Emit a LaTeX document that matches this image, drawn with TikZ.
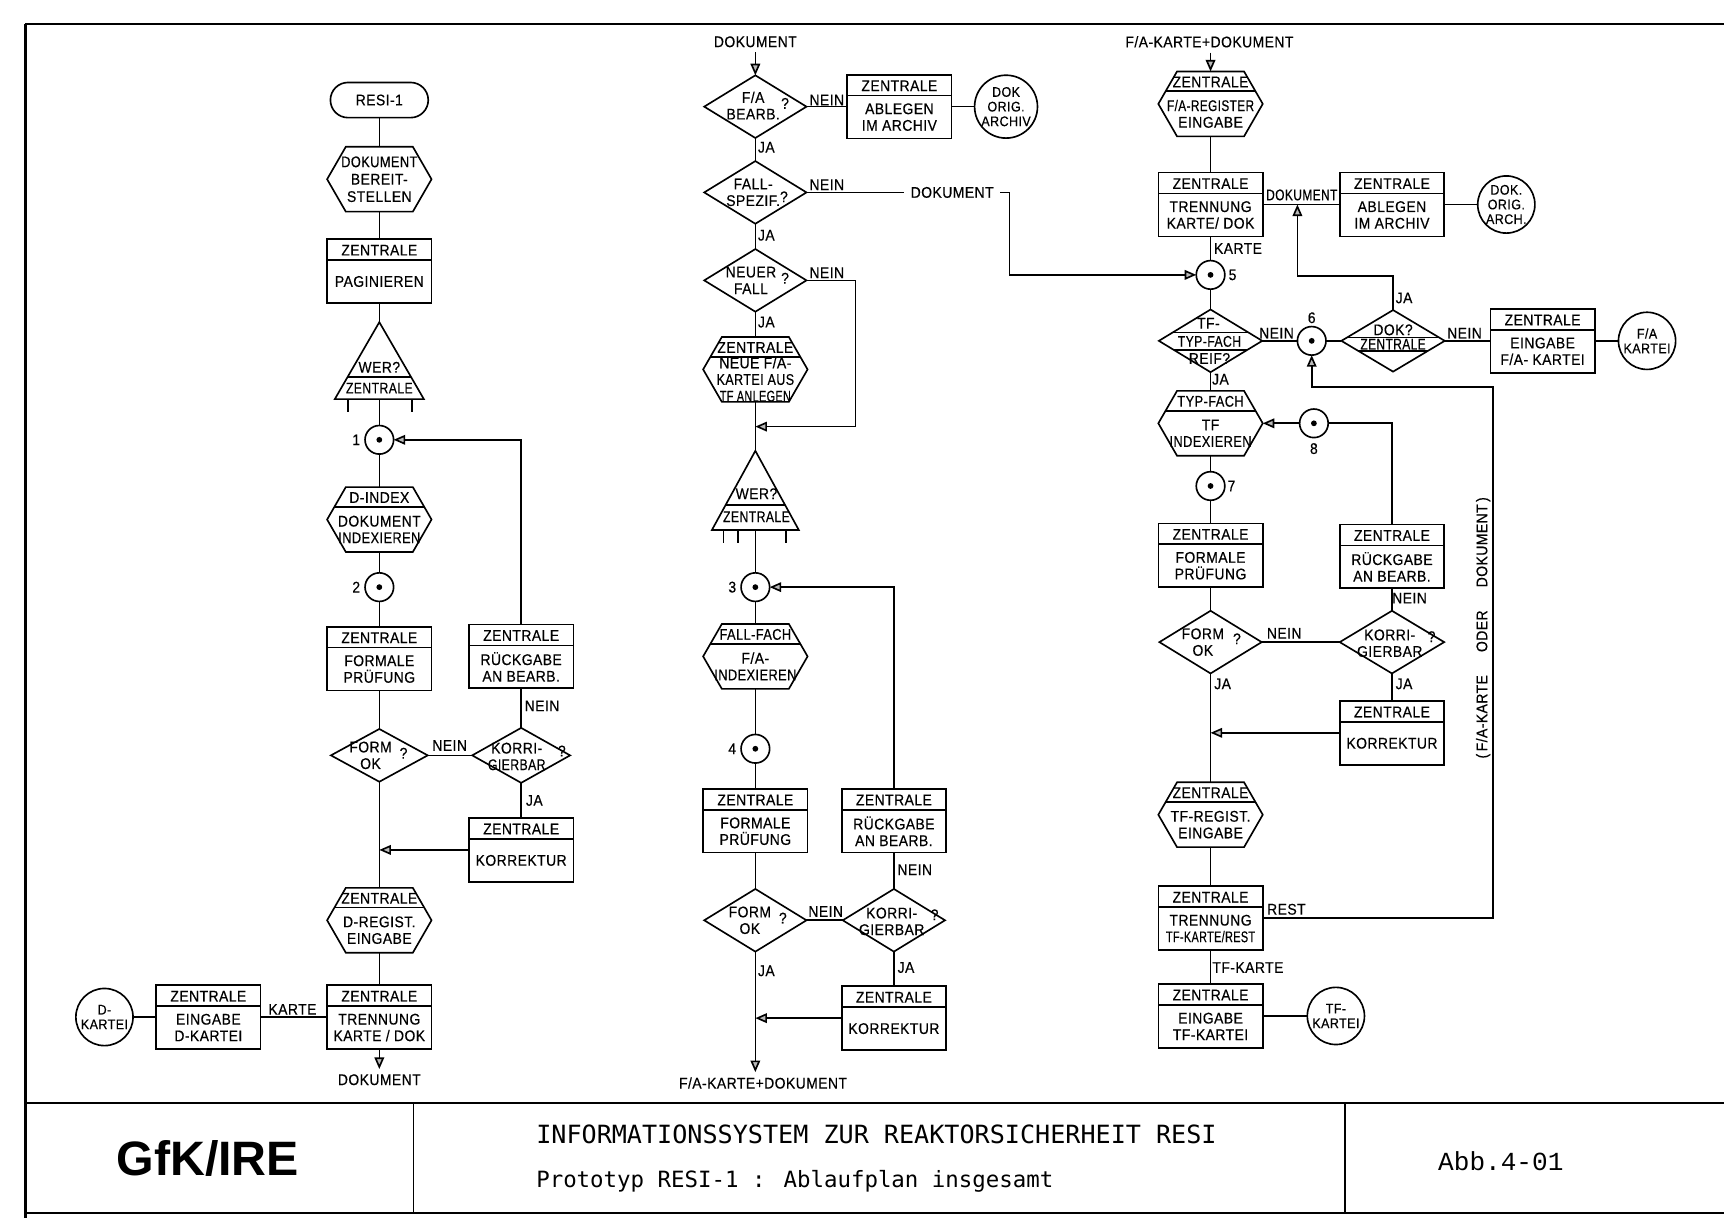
\documentclass[tikz,border=0pt]{standalone}
\usepackage{fontspec}
\usetikzlibrary{arrows.meta,calc}
\newfontfamily\diafont{Liberation Sans}[LetterSpace=3, FakeStretch=0.9, FakeBold=0.4]
\newfontfamily\headfont{Liberation Sans}
\newfontfamily\titlefont{DejaVu Sans Mono}
\newfontfamily\abbfont{Liberation Mono}

% horizontally squeezed text
\newcommand\nar[2][0.85]{\scalebox{#1}[1]{#2}}

\tikzset{
  pbox/.style={draw, minimum width=1.9cm, minimum height=1.16cm, inner sep=0pt, outer sep=0pt},
  hbox/.style={minimum width=1.9cm, minimum height=1.18cm, inner sep=0pt, outer sep=0pt},
  lbl/.style={font=\diafont\fontsize{8}{8.6}\selectfont, inner sep=0pt, align=center},
  jc/.style={circle, draw, minimum size=0.52cm, inner sep=0pt, outer sep=0pt},
  bigc/.style={circle, draw, minimum size=1.04cm, inner sep=0pt, outer sep=0pt,
    font=\diafont\fontsize{7.2}{7.6}\selectfont, align=center},
  arr/.style={-{Triangle[length=6pt,width=5pt,fill=gray!55]}},
}

% process box: name, centre, header, body
\newcommand\pbx[4]{%
  \node[pbox] (#1) at (#2) {};
  \draw ($(#1.north west)+(0,19)$) -- ($(#1.north east)+(0,19)$);
  \node[lbl] (#1-h) at ($(#1.north)+(0,10)$) {#3};
  \node[lbl] (#1-b) at ($(#1.north)+(0,38.5)$) {#4};
}
% hexagon outline around a named node
\newcommand\hexshape[1]{%
  \draw ($(#1.north west)+(17,0)$) -- ($(#1.north east)+(-17,0)$) -- (#1.east)
     -- ($(#1.south east)+(-17,0)$) -- ($(#1.south west)+(17,0)$) -- (#1.west) -- cycle;
}
% hexagon with header: name, centre, header, body
\newcommand\hexa[4]{%
  \node[hbox] (#1) at (#2) {};
  \hexshape{#1}
  \draw ($(#1.north west)+(6.6,18)$) -- ($(#1.north east)+(-6.6,18)$);
  \node[lbl] (#1-h) at ($(#1.north)+(0,9.5)$) {#3};
  \node[lbl] (#1-b) at ($(#1.north)+(0,38.5)$) {#4};
}
% hexagon without header: name, centre, text
\newcommand\hexb[3]{%
  \node[hbox] (#1) at (#2) {};
  \hexshape{#1}
  \node[lbl,font=\diafont\fontsize{8}{9}\selectfont] (#1-b) at (#1.center) {#3};
}
% decision diamond: name, centre, width, height
\newcommand\dia[4]{%
  \node[inner sep=0pt, outer sep=0pt, minimum width=#3*0.02cm, minimum height=#4*0.02cm] (#1) at (#2) {};
  \draw (#1.north) -- (#1.east) -- (#1.south) -- (#1.west) -- cycle;
}
% triangle: name, centre, width, height
\newcommand\trig[4]{%
  \node[inner sep=0pt, outer sep=0pt, minimum width=#3*0.02cm, minimum height=#4*0.02cm] (#1) at (#2) {};
  \draw (#1.north) -- (#1.south east) -- (#1.south west) -- cycle;
}
% connector circle with centre dot
\newcommand\junc[2]{%
  \node[jc] (#1) at (#2) {};
  \fill (#1.center) circle (1.5pt);
}

\begin{document}
\begin{tikzpicture}[x=0.02cm, y=-0.02cm, line width=0.85pt]
\fill[white] (0,0) rectangle (1568,1117);
\useasboundingbox (0,0) rectangle (1568,1117);

% ---------------- frame and title block
\draw[line width=1.3pt] (23,22) -- (1568,22);
\draw[line width=1.3pt] (23,22) -- (23,1108);
\draw[line width=1.3pt] (23,1003) -- (1568,1003);
\draw[line width=1.3pt] (23,1103) -- (1568,1103);
\draw (376,1003) -- (376,1103);
\draw (1223,1003) -- (1223,1103);
\node[font=\headfont\bfseries\fontsize{25}{25}\selectfont, inner sep=0pt] (gfk) at (189,1054) {GfK/IRE};
\node[font=\titlefont\fontsize{13}{13}\selectfont, anchor=west, inner sep=0pt] (ti1) at (487,1032) {INFORMATIONSSYSTEM ZUR REAKTORSICHERHEIT RESI};
\node[font=\titlefont\fontsize{11.6}{11.6}\selectfont, anchor=west, inner sep=0pt] (ti2) at (487,1074) {Prototyp RESI-1 : Ablaufplan insgesamt};
\node[font=\abbfont\fontsize{13.5}{13.5}\selectfont, inner sep=0pt] (abb) at (1365,1056) {Abb.4-01};

% ---------------- left column: document intake
\node[draw, rounded corners=0.32cm, minimum width=1.78cm, minimum height=0.64cm, lbl] (t0) at (345,91) {RESI-1};
\hexb{h1}{345,163}{\nar[0.92]{DOKUMENT}\\BEREIT-\\STELLEN}
\pbx{b1}{345,246.5}{ZENTRALE}{PAGINIEREN}
\trig{tr1}{345,328}{81}{70}
\draw ($(tr1.north)+(-28.8,50)$) -- ($(tr1.north)+(28.8,50)$);
\node[lbl] (tr1-a) at ($(tr1.north)+(0,41)$) {WER?};
\node[lbl] (tr1-b) at ($(tr1.north)+(0,60)$) {\nar[0.88]{ZENTRALE}};
\draw ($(tr1.south west)+(12,0)$) -- ++(0,12);
\draw ($(tr1.south west)+(70,0)$) -- ++(0,12);
\junc{c1}{345,400}
\node[lbl] (n1) at (324,400) {1};
\hexa{h2}{345,472.5}{D-INDEX}{DOKUMENT\\\nar[0.92]{INDEXIEREN}}
\junc{c2}{345,534}
\node[lbl] (n2) at (324,534) {2};
\pbx{b2}{345,599}{ZENTRALE}{FORMALE\\PRÜFUNG}
\pbx{b3}{474,597}{ZENTRALE}{RÜCKGABE\\AN BEARB.}
\dia{d1}{345,687}{88}{48}
\node[lbl] (d1-t) at (337,687) {FORM\\OK};
\node[lbl] (d1-q) at (367,685) {?};
\dia{d2}{474,687}{89}{50}
\node[lbl] (d2-t) at (470,688) {KORRI-\\\nar[0.88]{GIERBAR}};
\node[lbl] (d2-q) at (511,683) {?};
\pbx{b4}{474,773}{ZENTRALE}{KORREKTUR}
\hexa{h3}{345,837}{ZENTRALE}{D-REGIST.\\EINGABE}
\pbx{b5}{345,925}{ZENTRALE}{TRENNUNG\\KARTE / DOK}
\pbx{b6}{189.5,925}{ZENTRALE}{EINGABE\\D-KARTEI}
\node[bigc] (k1) at (95,925) {D-\\KARTEI};
\node[lbl] (doc1) at (345,982) {DOKUMENT};
\node[lbl] (l1) at (493,642) {NEIN};
\node[lbl] (l2) at (409,678) {NEIN};
\node[lbl] (l3) at (486,728) {JA};
\node[lbl] (l4) at (266,918) {KARTE};

\draw (t0.south) -- (h1.north);
\draw (h1.south) -- (b1.north);
\draw (b1.south) -- (tr1.north);
\draw (tr1.south) -- (c1.north);
\draw (c1.south) -- (h2.north);
\draw (h2.south) -- (c2.north);
\draw (c2.south) -- (b2.north);
\draw (b2.south) -- (d1.north);
\draw (d1.south) -- (h3.north);
\draw (h3.south) -- (b5.north);
\draw[arr] (b5.south) -- ($(doc1.north)+(0,-4)$);
\draw (d1.east) -- (d2.west);
\draw (d2.north) -- (b3.south);
\draw (d2.south) -- (b4.north);
\draw[arr] (b4.west) -- (b4.west -| d1.south);
\draw[arr] (b3.north) |- (c1.east);
\draw (b5.west) -- (b6.east);
\draw (b6.west) -- (k1.east);

% ---------------- middle column: case processing
\node[lbl] (doc2) at (687,38) {DOKUMENT};
\dia{d3}{687,97}{93}{57}
\node[lbl] (d3-t) at (685,96) {F/A\\BEARB.};
\node[lbl] (d3-q) at (714,94) {?};
\pbx{b7}{818,97}{ZENTRALE}{ABLEGEN\\IM ARCHIV}
\node[bigc] (k2) at (915,97) {DOK\\ORIG.\\ARCHIV};
\dia{d4}{687,175}{93}{57}
\node[lbl] (d4-t) at (685,175) {FALL-\\SPEZIF.};
\node[lbl] (d4-q) at (713,179) {?};
\node[lbl, inner xsep=3pt] (doc3) at (866,175) {DOKUMENT};
\coordinate (cD) at (918,175);
\dia{d5}{687,255}{93}{57}
\node[lbl] (d5-t) at (683,255) {NEUER\\FALL};
\node[lbl] (d5-q) at (714,253) {?};
\coordinate (cN) at (778,388);
\hexa{h4}{687,336}{ZENTRALE}{NEUE F/A-\\\nar[0.9]{KARTEI AUS}\\\nar[0.78]{TF ANLEGEN}}
\trig{tr2}{687,446}{79}{72}
\draw ($(tr2.north)+(-26.9,49)$) -- ($(tr2.north)+(26.9,49)$);
\node[lbl] (tr2-a) at ($(tr2.north)+(1,39)$) {WER?};
\node[lbl] (tr2-b) at ($(tr2.north)+(1,60)$) {\nar[0.88]{ZENTRALE}};
\draw ($(tr2.south west)+(10.5,0)$) -- ++(0,12);
\draw ($(tr2.south west)+(23.5,0)$) -- ++(0,12);
\draw ($(tr2.south west)+(67.5,0)$) -- ++(0,12);
\junc{c3}{687,534}
\node[lbl] (n3) at (666,534) {3};
\hexa{h5}{687,597}{\nar[0.92]{FALL-FACH}}{F/A-\\\nar[0.92]{INDEXIEREN}}
\junc{c4}{687,681}
\node[lbl] (n4) at (666,681) {4};
\pbx{b8}{687,746.5}{ZENTRALE}{FORMALE\\PRÜFUNG}
\pbx{b9}{813,746.5}{ZENTRALE}{RÜCKGABE\\AN BEARB.}
\dia{d6}{687,837}{93}{57}
\node[lbl] (d6-t) at (682,837) {FORM\\OK};
\node[lbl] (d6-q) at (712,835) {?};
\dia{d7}{813,837}{93}{57}
\node[lbl] (d7-t) at (811,838) {KORRI-\\GIERBAR};
\node[lbl] (d7-q) at (850,832) {?};
\pbx{b10}{813,926}{ZENTRALE}{KORREKTUR}
\node[lbl] (fa1) at (694,985) {F/A-KARTE+DOKUMENT};
\node[lbl] (m1) at (752,91) {NEIN};
\node[lbl] (m2) at (697,134) {JA};
\node[lbl] (m3) at (752,168) {NEIN};
\node[lbl] (m4) at (697,214) {JA};
\node[lbl] (m5) at (752,248) {NEIN};
\node[lbl] (m6) at (697,293) {JA};
\node[lbl] (m7) at (832,791) {NEIN};
\node[lbl] (m8) at (751,829) {NEIN};
\node[lbl] (m9) at (697,883) {JA};
\node[lbl] (m10) at (824,880) {JA};

\draw[arr] ($(doc2.south)+(0,4)$) -- (d3.north);
\draw (d3.east) -- (b7.west);
\draw (b7.east) -- (k2.west);
\draw (d3.south) -- (d4.north);
\draw (d4.east) -- (doc3.west);
\draw (d4.south) -- (d5.north);
\draw (d5.south) -- (h4.north);
\draw[arr] (d5.east) -| (cN) -- (cN -| tr2.north);
\draw (h4.south) -- (tr2.north);
\draw (tr2.south) -- (c3.north);
\draw (c3.south) -- (h5.north);
\draw (h5.south) -- (c4.north);
\draw (c4.south) -- (b8.north);
\draw (b8.south) -- (d6.north);
\draw (d6.east) -- (d7.west);
\draw (d7.north) -- (b9.south);
\draw (d7.south) -- (b10.north);
\draw[arr] (b9.north) |- (c3.east);
\draw[arr] (b10.west) -- (b10.west -| d6.south);
\draw[arr] (d6.south) -- ($(d6.south |- fa1.north)+(0,-4)$);

% ---------------- right column: register and type files
\node[lbl] (fa2) at (1100,38) {F/A-KARTE+DOKUMENT};
\hexa{h6}{1101,94.5}{ZENTRALE}{\nar[0.85]{F/A-REGISTER}\\EINGABE}
\pbx{b11}{1101,186}{ZENTRALE}{TRENNUNG\\KARTE/ DOK}
\pbx{b12}{1266,186}{ZENTRALE}{ABLEGEN\\IM ARCHIV}
\node[bigc] (k3) at (1370,186) {DOK.\\ORIG.\\ARCH.};
\node[lbl, anchor=south] (doc4) at (1184,183) {\nar[0.86]{DOKUMENT}};
\junc{c5}{1101,250}
\node[lbl] (n5) at (1121,250) {5};
\dia{d8}{1101,310}{94}{57}
\draw ($(d8.north)+(-34.6,21)$) -- ($(d8.north)+(34.6,21)$);
\draw ($(d8.north)+(-33,37)$) -- ($(d8.north)+(33,37)$);
\node[lbl] (d8-a) at (1099,294) {TF-};
\node[lbl] (d8-b) at (1100,310.5) {\nar[0.88]{TYP-FACH}};
\node[lbl] (d8-c) at (1100,326) {REIF?};
\junc{c6}{1193,310}
\node[lbl] (n6) at (1193,289) {6};
\dia{d9}{1267,310}{94}{56}
\draw ($(d9.north)+(-42,25)$) -- ($(d9.north)+(42,25)$);
\draw ($(d9.north)+(-31.9,37)$) -- ($(d9.north)+(31.9,37)$);
\node[lbl] (d9-a) at (1267,300) {DOK?};
\node[lbl] (d9-b) at (1267,313) {\nar[0.86]{ZENTRALE}};
\pbx{b13}{1403,310}{ZENTRALE}{EINGABE\\F/A- KARTEI}
\node[bigc] (k4) at (1498,310) {F/A\\KARTEI};
\hexa{h7}{1101,385}{\nar[0.92]{TYP-FACH}}{TF\\\nar[0.92]{INDEXIEREN}}
\junc{c8}{1195,385}
\node[lbl] (n8) at (1195,408) {8};
\junc{c7}{1101,442}
\node[lbl] (n7) at (1120,442) {7};
\pbx{b14}{1101,505}{ZENTRALE}{FORMALE\\PRÜFUNG}
\pbx{b15}{1266,506}{ZENTRALE}{RÜCKGABE\\AN BEARB.}
\dia{d10}{1101,584}{93}{57}
\node[lbl] (d10-t) at (1094,584) {FORM\\OK};
\node[lbl] (d10-q) at (1125,581) {?};
\dia{d11}{1266,584}{95}{57}
\node[lbl] (d11-t) at (1264,585) {KORRI-\\GIERBAR};
\node[lbl] (d11-q) at (1302,579) {?};
\pbx{b16}{1266,666.5}{ZENTRALE}{KORREKTUR}
\hexa{h8}{1101,741}{ZENTRALE}{TF-REGIST.\\EINGABE}
\pbx{b17}{1101,835}{ZENTRALE}{TRENNUNG\\\nar[0.78]{TF-KARTE/REST}}
\pbx{b18}{1101,924}{ZENTRALE}{EINGABE\\TF-KARTEI}
\node[bigc] (k5) at (1215,924) {TF-\\KARTEI};
\coordinate (cR) at (1358,352);
\coordinate (cJ) at (1180,251);
\node[lbl, rotate=90] (vl) at (1349,571) {(\,F/A-KARTE\quad\enspace ODER\quad\enspace DOKUMENT\,)};
\node[lbl] (r1) at (1126,226) {KARTE};
\node[lbl] (r2) at (1277,271) {JA};
\node[lbl] (r3) at (1161,303) {NEIN};
\node[lbl] (r4) at (1332,303) {NEIN};
\node[lbl] (r5) at (1110,345) {JA};
\node[lbl] (r6) at (1282,544) {NEIN};
\node[lbl] (r7) at (1168,576) {NEIN};
\node[lbl] (r8) at (1112,622) {JA};
\node[lbl] (r9) at (1277,622) {JA};
\node[lbl] (r10) at (1170,827) {REST};
\node[lbl] (r11) at (1135,880) {TF-KARTE};

\draw[arr] ($(h6.north |- fa2.south)+(0,4)$) -- (h6.north);
\draw (h6.south) -- (b11.north);
\draw (b11.east) -- (b12.west);
\draw (b12.east) -- (k3.west);
\draw (b11.south) -- (c5.north);
\draw[arr] (doc3.east) -- (cD) |- (c5.west);
\draw (c5.south) -- (d8.north);
\draw (d8.east) -- (c6.west);
\draw (c6.east) -- (d9.west);
\draw (d9.east) -- (b13.west);
\draw (b13.east) -- (k4.west);
\draw[arr] (d9.north) |- (cJ) -- (cJ |- b11.east);
\draw (d8.south) -- (h7.north);
\draw (h7.south) -- (c7.north);
\draw[arr] (c8.west) -- (h7.east);
\draw (b15.north) |- (c8.east);
\draw (c7.south) -- (b14.north);
\draw (b14.south) -- (d10.north);
\draw (d10.east) -- (d11.west);
\draw (d11.north) -- (b15.south);
\draw (d11.south) -- (b16.north);
\draw[arr] (b16.west) -- (b16.west -| d10.south);
\draw (d10.south) -- (h8.north);
\draw (h8.south) -- (b17.north);
\draw (b17.south) -- (b18.north);
\draw (b18.east) -- (k5.west);
\draw[arr] (b17.east) -| (cR) -| (c6.south);
\end{tikzpicture}
\end{document}
